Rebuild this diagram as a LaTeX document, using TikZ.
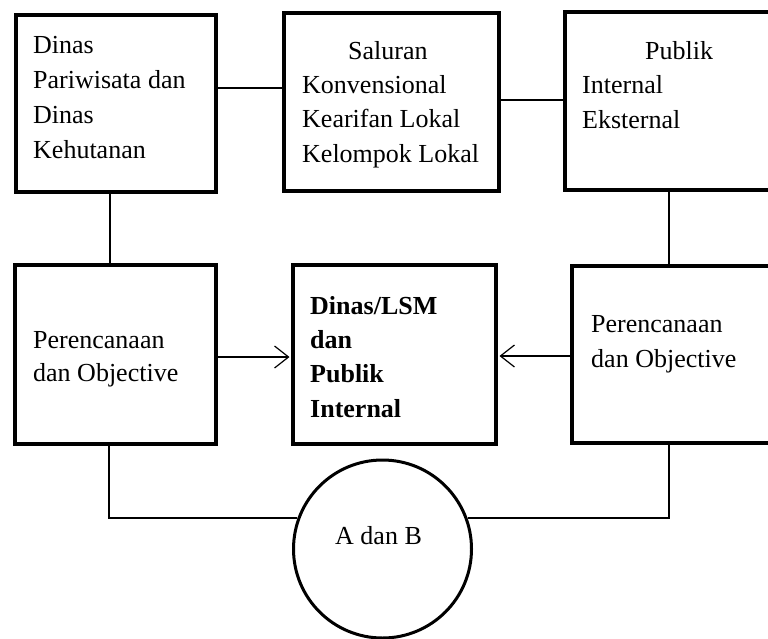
\documentclass[tikz,border=0pt]{standalone}
\usepackage{fontspec}
\setmainfont{Liberation Serif}
\usetikzlibrary{arrows.meta}
\begin{document}
\begin{tikzpicture}[x=1pt,y=-1pt,
  frame/.style={draw, line width=3.5pt, rectangle, inner sep=0pt},
  disc/.style={draw, line width=3pt, circle, inner sep=0pt},
  % texts are placed by the baseline of their last line
  txt/.style={inner sep=0pt, anchor=base west, align=left,
    font=\fontsize{26}{35}\selectfont},
  link/.style={line width=1.2pt},
  arr/.style={link, shorten >=1.75pt,
    -{Straight Barb[length=14pt,width=22pt,line width=1.2pt]}}]
\clip (0,0) rectangle (768,638);

% boxes
\node[frame, minimum width=200pt, minimum height=177pt] (A) at (116,103.5) {};
\node[frame, minimum width=215pt, minimum height=178pt] (B) at (391.5,102) {};
\node[frame, minimum width=225pt, minimum height=178pt] (C) at (677.5,101) {};
\node[frame, minimum width=201pt, minimum height=179pt] (D) at (115.5,354.5) {};
\node[frame, minimum width=203pt, minimum height=179pt] (E) at (394.5,354.5) {};
\node[frame, minimum width=218pt, minimum height=177pt] (F) at (681,354.5) {};
\node[disc, minimum size=178pt] (G) at (382.5,549) {};

% texts
\node[txt] (tA) at (33,158) {Dinas\\Pariwisata dan\\Dinas\\Kehutanan};
\node[txt, font=\fontsize{26}{34.3}\selectfont] (tB) at (302,162) {\hspace*{46pt}Saluran\\Konvensional\\Kearifan Lokal\\Kelompok Lokal};
\node[txt, font=\fontsize{26}{34.5}\selectfont] (tC) at (582,128) {\hspace*{63pt}Publik\\Internal\\Eksternal};
\node[txt, font=\fontsize{26}{33}\selectfont] (tD) at (33,381) {Perencanaan\\dan Objective};
\node[txt, font=\fontsize{26}{34.3}\selectfont\bfseries] (tE) at (310,417) {Dinas/LSM\\dan\\Publik\\Internal};
\node[txt] (tF) at (591,367) {Perencanaan\\dan Objective};
\node[txt] (tG) at (335,544) {A dan B};

% connectors
\draw[link] (A.east |- 0,88) -- (B.west |- 0,88);
\draw[link] (B.east |- 0,100) -- (C.west |- 0,100);
\draw[link] (A.south -| 110,0) -- (D.north -| 110,0);
\draw[link] (C.south -| 669,0) -- (F.north -| 669,0);
\draw[arr] (D.east |- 0,357) -- (E.west |- 0,357);
\draw[arr] (F.west |- 0,356) -- (E.east |- 0,356);
\draw[link] (D.south -| 109,0) |- (G.160);
\draw[link] (F.south -| 669,0) |- (G.20);
\end{tikzpicture}
\end{document}
